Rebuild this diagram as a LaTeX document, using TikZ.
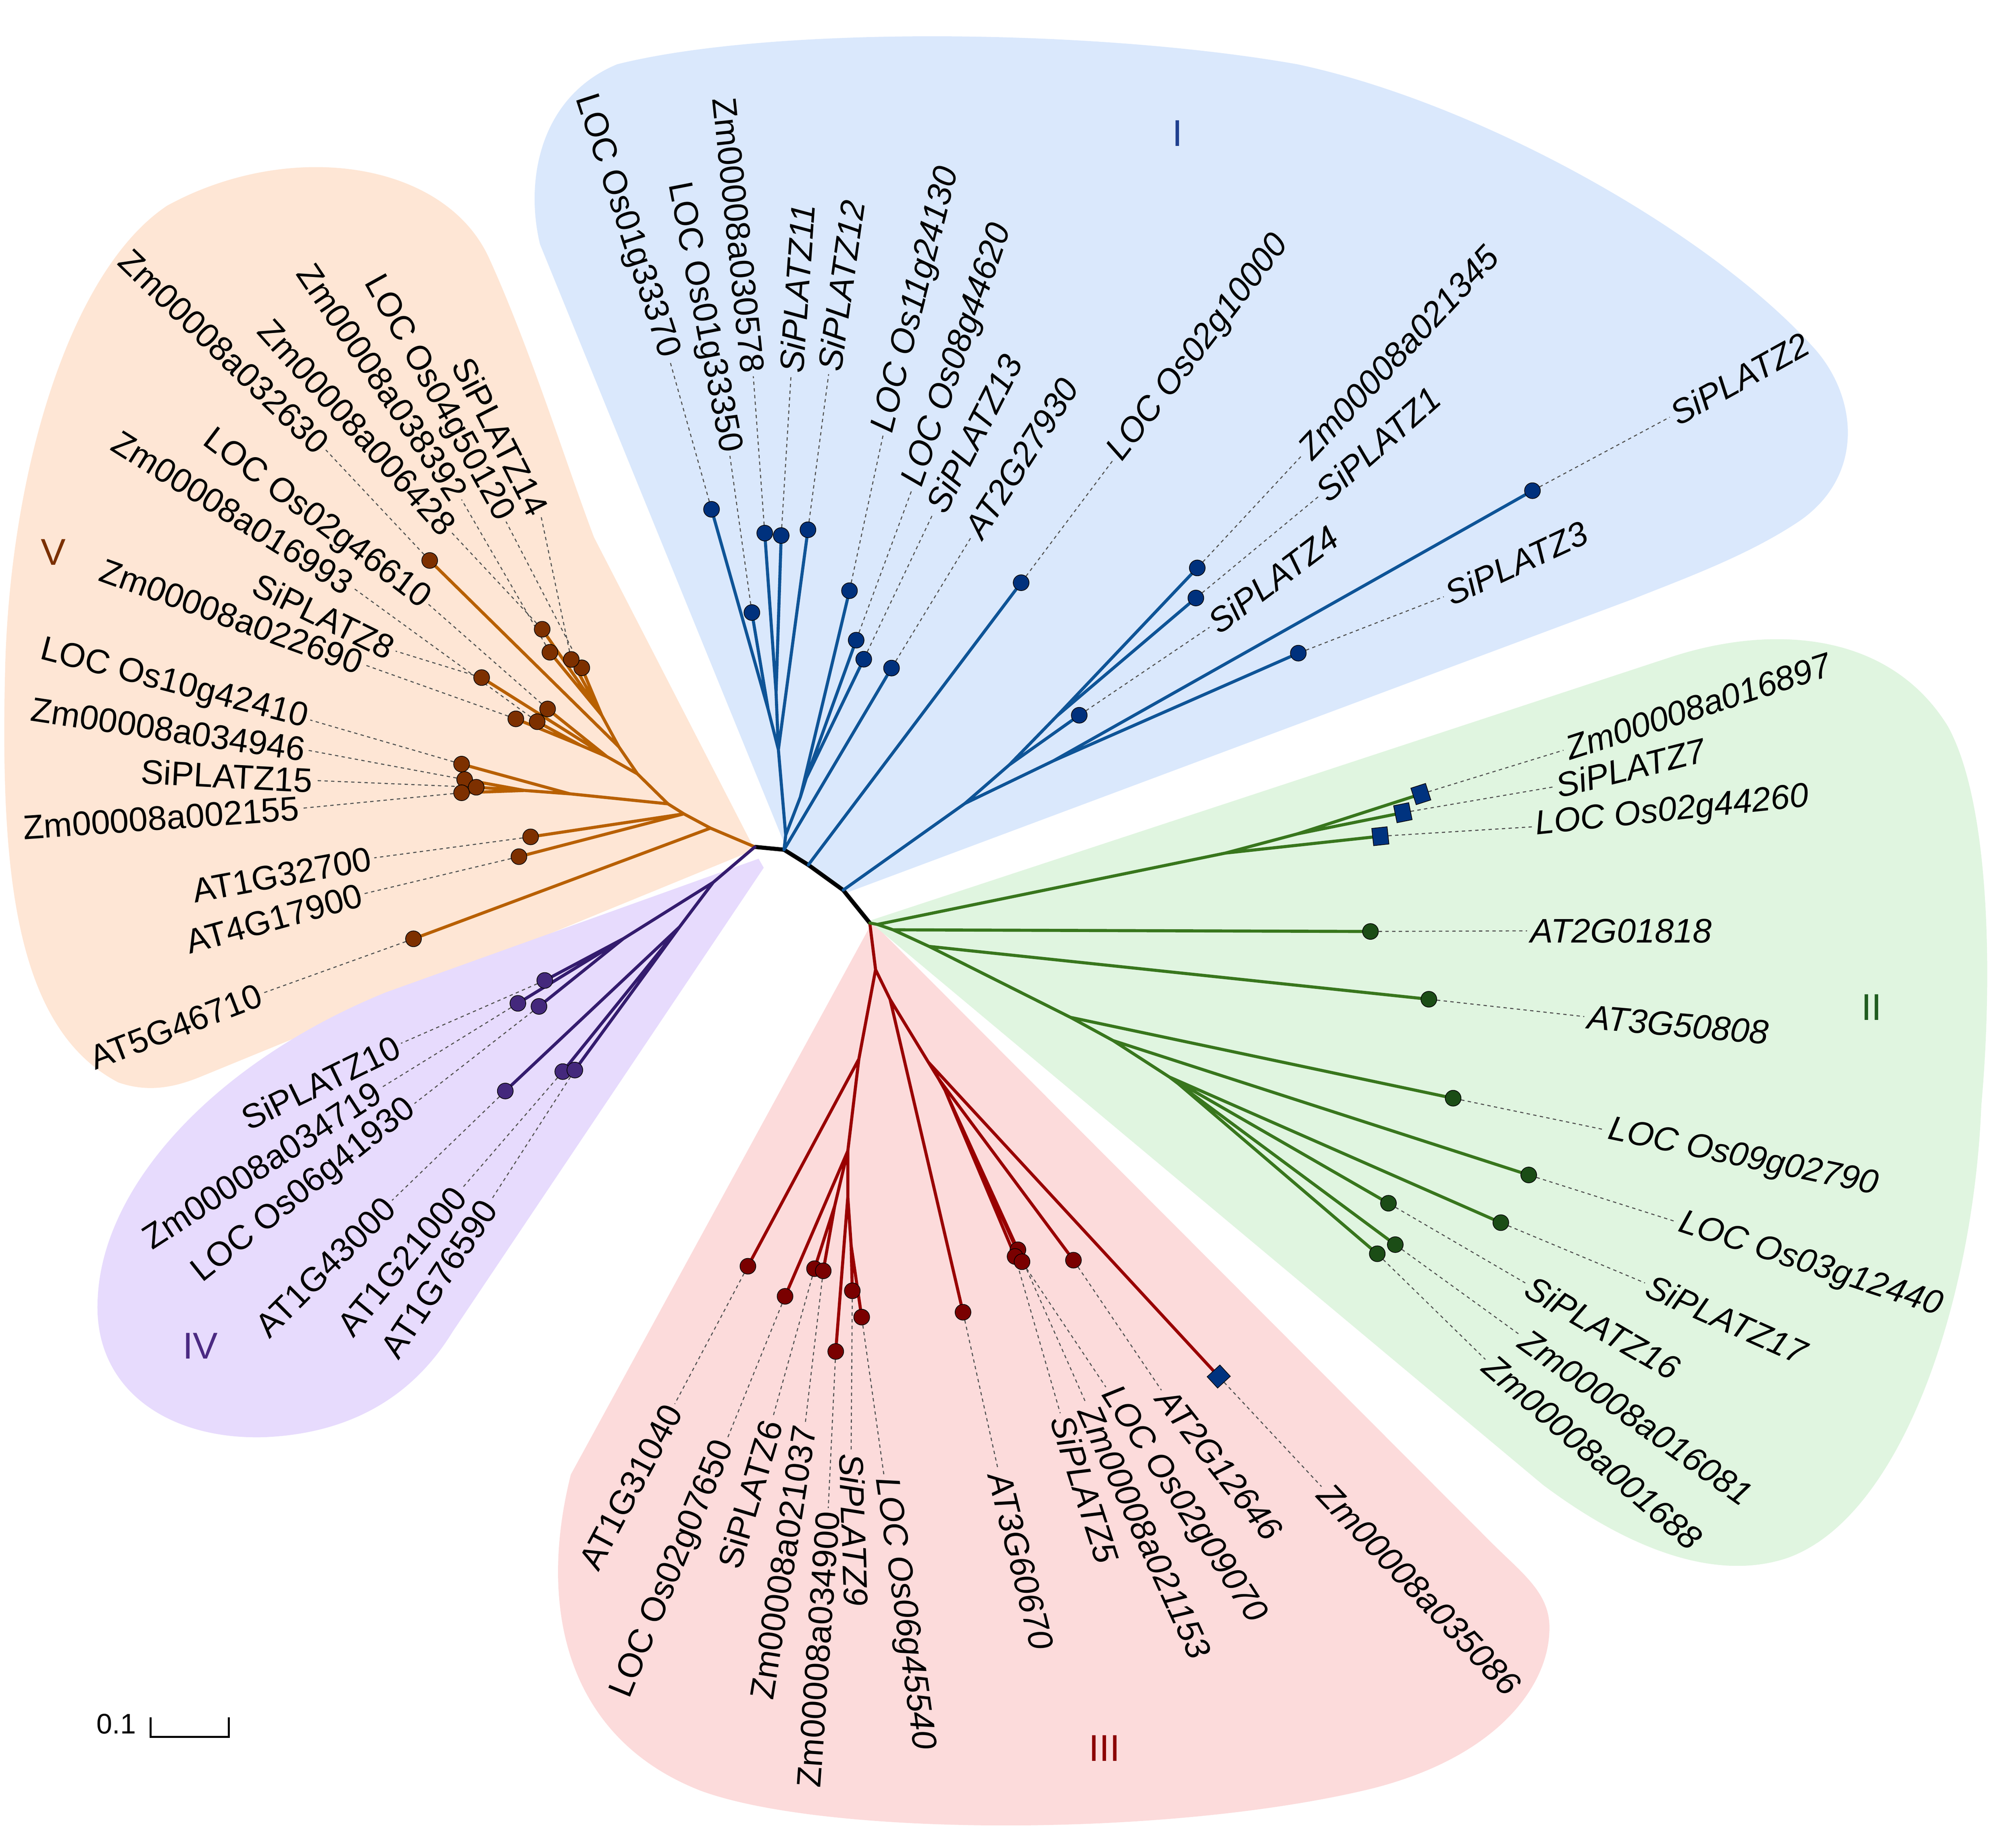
\documentclass[tikz,border=0pt]{standalone}
\usepackage{fontspec}
\setmainfont{Liberation Sans}
\pgfdeclarelayer{bg}
\pgfdeclarelayer{dashes}
\pgfdeclarelayer{edges}
\pgfsetlayers{bg,dashes,edges,main}
\definecolor{bgB}{HTML}{DAE8FC}
\definecolor{bgO}{HTML}{FEE6D5}
\definecolor{bgP}{HTML}{E7DBFD}
\definecolor{bgR}{HTML}{FCDBDB}
\definecolor{bgG}{HTML}{E0F5E0}
\definecolor{lnB}{HTML}{0E5497}
\definecolor{dtB}{HTML}{00317D}
\definecolor{lnO}{HTML}{B86000}
\definecolor{dtO}{HTML}{7D3000}
\definecolor{lnP}{HTML}{341C6E}
\definecolor{dtP}{HTML}{44287C}
\definecolor{lnR}{HTML}{990000}
\definecolor{dtR}{HTML}{7A0000}
\definecolor{lnG}{HTML}{38761D}
\definecolor{dtG}{HTML}{1B4D16}
\definecolor{sqB}{HTML}{00337F}
\definecolor{dshC}{HTML}{505050}
\definecolor{nmB}{HTML}{1F3F8F}
\definecolor{nmG}{HTML}{1F5C1F}
\definecolor{nmR}{HTML}{8B0000}
\definecolor{nmP}{HTML}{4B2A82}
\definecolor{nmO}{HTML}{7B3000}
\newcommand\lblfont{\fontsize{26.5}{30}\selectfont}
\newcommand\numfont{\fontsize{29}{33}\selectfont}
\begin{document}
\begin{tikzpicture}[x=1pt,y=-1pt,
  br/.style={line width=2.4pt,line cap=round,line join=round},
  bbone/.style={line width=3.2pt,line cap=round,line join=round,draw=black},
  dsh/.style={draw=dshC,line width=0.8pt,dash pattern=on 2.6pt off 2.6pt},
  dt/.style={circle,draw=black,line width=0.5pt,inner sep=0pt,minimum size=12.3pt},
  sqn/.style={rectangle,draw=black,line width=0.5pt,fill=sqB,inner sep=0pt,minimum width=12pt,minimum height=13.5pt},
  lbR/.style={font=\lblfont\itshape,inner sep=2.5pt,anchor=west},
  lbL/.style={font=\lblfont,inner sep=2.5pt,anchor=east},
  numl/.style={font=\numfont,inner sep=0pt}]
\useasboundingbox (0,0) rectangle (1568,1421);
% ---------------- backgrounds
\begin{pgfonlayer}{bg}
\fill[white] (0,0) rectangle (1568,1421);
\fill[bgB] (612,661) -- (420,190) .. controls (408,140) and (420,75) .. (480,50)
  .. controls (600,20) and (850,22) .. (1009,50)
  .. controls (1150,80) and (1330,180) .. (1412,272)
  .. controls (1445,310) and (1450,370) .. (1400,405)
  .. controls (1360,432) and (1310,450) .. (1270,466) -- (657,695) -- cycle;
\fill[bgO] (587,661) -- (462,418) .. controls (440,360) and (412,270) .. (380,200)
  .. controls (345,125) and (225,108) .. (130,160)
  .. controls (55,210) and (8,365) .. (4,520)
  .. controls (0,680) and (12,800) .. (92,842)
  .. controls (115,850) and (135,846) .. (155,838) -- cycle;
\fill[bgP] (590,668) -- (300,772) .. controls (170,825) and (80,920) .. (76,1010)
  .. controls (72,1080) and (130,1120) .. (205,1118)
  .. controls (280,1115) and (325,1080) .. (352,1036) -- (594,675) -- cycle;
\fill[bgR] (677,720) -- (444,1147) .. controls (418,1250) and (440,1352) .. (545,1393)
  .. controls (640,1428) and (900,1430) .. (1060,1393)
  .. controls (1160,1370) and (1203,1315) .. (1205,1270)
  .. controls (1207,1240) and (1185,1225) .. (1160,1200) -- (680,719) -- cycle;
\fill[bgG] (677,716) -- (1300,511) .. controls (1380,485) and (1470,492) .. (1515,565)
  .. controls (1548,625) and (1550,760) .. (1541,860)
  .. controls (1535,1010) and (1480,1180) .. (1390,1212)
  .. controls (1330,1232) and (1260,1200) .. (1200,1155) -- (681,721) -- cycle;
\end{pgfonlayer}
% ---------------- internal nodes
\coordinate (OP) at (587.1,658.8);
\coordinate (RB) at (609.8,661.0);
\coordinate (K1) at (628.7,672.8);
\coordinate (K2) at (655.8,692.4);
\coordinate (GR) at (676.5,718.0);
% blue
\coordinate (B0) at (611.1,649.6);
\coordinate (BA) at (605.4,583.1);
\coordinate (BA1) at (597.4,551.6);
\coordinate (BA2) at (603.6,538.7);
\coordinate (BB) at (622.5,620.0);
\coordinate (BB1) at (627.1,605.3);
\coordinate (B3) at (750.5,625.0);
\coordinate (Na) at (785.0,595.0);
\coordinate (Nc) at (822.0,557.0);
\coordinate (Nb) at (819.6,591.7);
% orange
\coordinate (O1) at (552.6,644.2);
\coordinate (O2) at (531.9,633.1);
\coordinate (O3) at (519.5,625.3);
\coordinate (O4) at (443.2,617.5);
\coordinate (O5) at (408.1,614.9);
\coordinate (O6) at (495.8,602.0);
\coordinate (O7) at (472.1,588.6);
\coordinate (O7a) at (451.4,579.7);
\coordinate (O8) at (481.3,580.9);
\coordinate (O9) at (468.0,556.4);
% purple
\coordinate (P1) at (554.7,686.4);
\coordinate (P2) at (484.8,730.2);
\coordinate (P3) at (528.5,721.1);
% red
\coordinate (R1) at (681.0,754.3);
\coordinate (R2) at (668.0,823.8);
\coordinate (R4) at (659.4,895.3);
\coordinate (R4a) at (649.2,938.1);
\coordinate (R5) at (659.4,931.0);
\coordinate (R6) at (662.0,969.0);
\coordinate (R3) at (692.3,777.4);
\coordinate (R7) at (722.0,826.2);
\coordinate (R8) at (730.1,839.3);
\coordinate (R9) at (735.0,848.0);
% green
\coordinate (G1) at (682.4,719.1);
\coordinate (G2) at (694.6,723.3);
\coordinate (G3) at (722.6,736.2);
\coordinate (G4) at (832.6,791.4);
\coordinate (G5) at (865.8,809.5);
\coordinate (G6) at (909.5,837.8);
\coordinate (G7) at (916.4,843.0);
\coordinate (GS) at (953.1,663.6);
\coordinate (GS2) at (1009.0,648.7);
% ---------------- tips
\node[dt,fill=dtB] (b1) at (553.4,396.2) {};
\node[dt,fill=dtB] (b2) at (584.8,476.5) {};
\node[dt,fill=dtB] (b3) at (594.8,414.7) {};
\node[dt,fill=dtB] (b4) at (607.6,416.6) {};
\node[dt,fill=dtB] (b5) at (628.4,412.1) {};
\node[dt,fill=dtB] (b6) at (660.7,459.5) {};
\node[dt,fill=dtB] (b7) at (665.9,498.0) {};
\node[dt,fill=dtB] (b8) at (671.8,512.8) {};
\node[dt,fill=dtB] (b9) at (693.4,519.7) {};
\node[dt,fill=dtB] (b10) at (794.2,453.3) {};
\node[dt,fill=dtB] (b11) at (931.2,441.8) {};
\node[dt,fill=dtB] (b12) at (930.1,465.2) {};
\node[dt,fill=dtB] (b13) at (839.4,556.4) {};
\node[dt,fill=dtB] (b14) at (1191.9,381.7) {};
\node[dt,fill=dtB] (b15) at (1009.8,508.1) {};
\node[dt,fill=dtO] (o1) at (334.2,436.0) {};
\node[dt,fill=dtO] (o2) at (452.5,519.5) {};
\node[dt,fill=dtO] (o3) at (427.7,507.4) {};
\node[dt,fill=dtO] (o4) at (421.7,489.5) {};
\node[dt,fill=dtO] (o5) at (444.3,513.0) {};
\node[dt,fill=dtO] (o6) at (425.9,551.5) {};
\node[dt,fill=dtO] (o7) at (417.8,561.4) {};
\node[dt,fill=dtO] (o8) at (374.6,527.1) {};
\node[dt,fill=dtO] (o9) at (401.2,559.2) {};
\node[dt,fill=dtO] (o10) at (359.0,594.4) {};
\node[dt,fill=dtO] (o11) at (361.4,606.4) {};
\node[dt,fill=dtO] (o13) at (359.0,616.7) {};
\node[dt,fill=dtO] (o12) at (370.4,612.4) {};
\node[dt,fill=dtO] (o14) at (412.7,651.0) {};
\node[dt,fill=dtO] (o15) at (403.6,666.4) {};
\node[dt,fill=dtO] (o16) at (321.6,730.3) {};
\node[dt,fill=dtP] (p1) at (423.7,762.7) {};
\node[dt,fill=dtP] (p2) at (402.8,780.5) {};
\node[dt,fill=dtP] (p3) at (419.2,782.9) {};
\node[dt,fill=dtP] (p4) at (393.0,848.7) {};
\node[dt,fill=dtP] (p5) at (437.7,833.6) {};
\node[dt,fill=dtP] (p6) at (447.1,832.4) {};
\node[dt,fill=dtR] (r1) at (581.7,985.0) {};
\node[dt,fill=dtR] (r2) at (610.6,1008.4) {};
\node[dt,fill=dtR] (r3) at (633.5,986.9) {};
\node[dt,fill=dtR] (r4) at (640.3,988.6) {};
\node[dt,fill=dtR] (r5) at (650.0,1051.3) {};
\node[dt,fill=dtR] (r6) at (662.9,1004.1) {};
\node[dt,fill=dtR] (r7) at (670.2,1024.6) {};
\node[dt,fill=dtR] (r8) at (749.0,1020.8) {};
\node[dt,fill=dtR] (r10) at (791.7,972.2) {};
\node[dt,fill=dtR] (r9) at (789.5,977.4) {};
\node[dt,fill=dtR] (r11) at (794.9,981.5) {};
\node[dt,fill=dtR] (r12) at (834.9,980.3) {};
\node[sqn,rotate=-47.3] (r13) at (947.9,1070.8) {};
\node[sqn,rotate=17.9] (g1) at (1105.1,617.7) {};
\node[sqn,rotate=11.4] (g2) at (1091.1,632.2) {};
\node[sqn,rotate=6.2] (g3) at (1073.6,650.5) {};
\node[dt,fill=dtG] (g4) at (1065.9,724.6) {};
\node[dt,fill=dtG] (g5) at (1111.3,777.3) {};
\node[dt,fill=dtG] (g6) at (1130.2,854.3) {};
\node[dt,fill=dtG] (g7) at (1189.0,914.0) {};
\node[dt,fill=dtG] (g8) at (1167.3,951.1) {};
\node[dt,fill=dtG] (g9) at (1079.9,936.0) {};
\node[dt,fill=dtG] (g10) at (1085.2,968.2) {};
\node[dt,fill=dtG] (g11) at (1071.2,975.3) {};
% ---------------- label points and labels
\coordinate (lb1) at (520.8,280.0);   \node[lbL,rotate=-72] (tb1) at (lb1) {LOC Os01g33370};
\coordinate (lb2) at (567.7,354.6);   \node[lbL,rotate=-79] (tb2) at (lb2) {LOC Os01g33350};
\coordinate (lb3) at (585.9,292.7);   \node[lbL,rotate=-84] (tb3) at (lb3) {Zm00008a030578};
\coordinate (lb4) at (615.2,292.7);   \node[lbR,rotate=86] (tb4) at (lb4) {SiPLATZ11};
\coordinate (lb5) at (644.5,291.1);   \node[lbR,rotate=82] (tb5) at (lb5) {SiPLATZ12};
\coordinate (lb6) at (686.8,338.7);   \node[lbR,rotate=76] (tb6) at (lb6) {LOC Os11g24130};
\coordinate (lb7) at (709.6,380.0);   \node[lbR,rotate=71] (tb7) at (lb7) {LOC Os08g44620};
\coordinate (lb8) at (725.9,399.1);   \node[lbR,rotate=63] (tb8) at (lb8) {SiPLATZ13};
\coordinate (lb9) at (755.2,418.1);   \node[lbR,rotate=57.5] (tb9) at (lb9) {AT2G27930};
\coordinate (lb10) at (865.8,357.8);  \node[lbR,rotate=52.5] (tb10) at (lb10) {LOC Os02g10000};
\coordinate (lb11) at (1012.3,354.6); \node[lbR,rotate=47] (tb11) at (lb11) {Zm00008a021345};
\coordinate (lb12) at (1025.3,386.4); \node[lbR,rotate=41.5] (tb12) at (lb12) {SiPLATZ1};
\coordinate (lb13) at (940.7,488.0);  \node[lbR,rotate=37] (tb13) at (lb13) {SiPLATZ4};
\coordinate (lb14) at (1298.7,324.5); \node[lbR,rotate=29] (tb14) at (lb14) {SiPLATZ2};
\coordinate (lb15) at (1122.9,464.2); \node[lbR,rotate=25] (tb15) at (lb15) {SiPLATZ3};
\coordinate (lo1) at (253.4,350.0);   \node[lbL,rotate=-44] (to1) at (lo1) {Zm00008a032630};
\coordinate (lo2) at (393.6,405.8);   \node[lbL,rotate=-61] (to2) at (lo2) {LOC Os04g50120};
\coordinate (lo3) at (359.0,388.6);   \node[lbL,rotate=-56] (to3) at (lo3) {Zm00008a038392};
\coordinate (lo4) at (351.4,414.4);   \node[lbL,rotate=-48] (to4) at (lo4) {Zm00008a006428};
\coordinate (lo5) at (420.8,401.5);   \node[lbL,rotate=-63] (to5) at (lo5) {SiPLATZ14};
\coordinate (lo6) at (333.3,470.1);   \node[lbL,rotate=-37] (to6) at (lo6) {LOC Os02g46610};
\coordinate (lo7) at (274.5,457.2);   \node[lbL,rotate=-32] (to7) at (lo7) {Zm00008a016993};
\coordinate (lo8) at (307.7,506.5);   \node[lbL,rotate=-26] (to8) at (lo8) {SiPLATZ8};
\coordinate (lo9) at (283.6,517.2);   \node[lbL,rotate=-20] (to9) at (lo9) {Zm00008a022690};
\coordinate (lo10) at (241.3,560.1);  \node[lbL,rotate=-14.5] (to10) at (lo10) {LOC Os10g42410};
\coordinate (lo11) at (239.8,583.7);  \node[lbL,rotate=-8.5] (to11) at (lo11) {Zm00008a034946};
\coordinate (lo12) at (245.8,607.2);  \node[lbL,rotate=-3] (to12) at (lo12) {SiPLATZ15};
\coordinate (lo13) at (235.3,628.7);  \node[lbL,rotate=4] (to13) at (lo13) {Zm00008a002155};
\coordinate (lo14) at (291.1,667.3);  \node[lbL,rotate=10.5] (to14) at (lo14) {AT1G32700};
\coordinate (lo15) at (283.6,695.1);  \node[lbL,rotate=15.5] (to15) at (lo15) {AT4G17900};
\coordinate (lo16) at (205.1,772.3);  \node[lbL,rotate=21] (to16) at (lo16) {AT5G46710};
\coordinate (lp1) at (311.9,811.6);   \node[lbL,rotate=26] (tp1) at (lp1) {SiPLATZ10};
\coordinate (lp2) at (296.2,846.3);   \node[lbL,rotate=33] (tp2) at (lp2) {Zm00008a034719};
\coordinate (lp3) at (322.4,858.4);   \node[lbL,rotate=38.5] (tp3) at (lp3) {LOC Os06g41930};
\coordinate (lp4) at (304.9,933.8);   \node[lbL,rotate=45] (tp4) at (lp4) {AT1G43000};
\coordinate (lp5) at (359.1,924.7);   \node[lbL,rotate=50.5] (tp5) at (lp5) {AT1G21000};
\coordinate (lp6) at (381.8,933.8);   \node[lbL,rotate=56.5] (tp6) at (lp6) {AT1G76590};
\coordinate (lr1) at (524.8,1092.1);  \node[lbL,rotate=62] (tr1) at (lr1) {AT1G31040};
\coordinate (lr2) at (565.5,1119.5);  \node[lbL,rotate=67.7] (tr2) at (lr2) {LOC Os02g07650};
\coordinate (lr3) at (601.0,1102.9);  \node[lbL,rotate=73.5] (tr3) at (lr3) {SiPLATZ6};
\coordinate (lr4) at (626.4,1106.4);  \node[lbL,rotate=81] (tr4) at (lr4) {Zm00008a021037};
\coordinate (lr5) at (644.2,1173.1);  \node[lbL,rotate=86] (tr5) at (lr5) {Zm00008a034900};
\coordinate (lr6) at (662.0,1127.9);  \node[lbR,rotate=-88] (tr6) at (lr6) {SiPLATZ9};
\coordinate (lr7) at (687.4,1146.9);  \node[lbR,rotate=-82] (tr7) at (lr7) {LOC Os06g45540};
\coordinate (lr8) at (776.3,1143.3);  \node[lbR,rotate=-76] (tr8) at (lr8) {AT3G60670};
\coordinate (lr9) at (824.6,1099.3);  \node[lbR,rotate=-72] (tr9) at (lr9) {SiPLATZ5};
\coordinate (lr10) at (844.9,1092.1); \node[lbR,rotate=-65.5] (tr10) at (lr10) {Zm00008a021153};
\coordinate (lr11) at (860.1,1079.0); \node[lbR,rotate=-57] (tr11) at (lr11) {LOC Os02g09070};
\coordinate (lr12) at (903.3,1081.4); \node[lbR,rotate=-52] (tr12) at (lr12) {AT2G12646};
\coordinate (lr13) at (1027.8,1156.4);\node[lbR,rotate=-46.5] (tr13) at (lr13) {Zm00008a035086};
\coordinate (lg1) at (1216.0,583.6);  \node[lbR,rotate=18] (tg1) at (lg1) {Zm00008a016897};
\coordinate (lg2) at (1207.9,612.2);  \node[lbR,rotate=14] (tg2) at (lg2) {SiPLATZ7};
\coordinate (lg3) at (1191.7,643.2);  \node[lbR,rotate=6] (tg3) at (lg3) {LOC Os02g44260};
\coordinate (lg4) at (1187.7,724.1);  \node[lbR,rotate=0] (tg4) at (lg4) {AT2G01818};
\coordinate (lg5) at (1232.2,790.8);  \node[lbR,rotate=-5] (tg5) at (lg5) {AT3G50808};
\coordinate (lg6) at (1248.4,878.9);  \node[lbR,rotate=-11.7] (tg6) at (lg6) {LOC Os09g02790};
\coordinate (lg7) at (1303.7,950.4);  \node[lbR,rotate=-18] (tg7) at (lg7) {LOC Os03g12440};
\coordinate (lg8) at (1279.4,998.0);  \node[lbR,rotate=-24] (tg8) at (lg8) {SiPLATZ17};
\coordinate (lg9) at (1186.3,998.0);  \node[lbR,rotate=-30] (tg9) at (lg9) {SiPLATZ16};
\coordinate (lg10) at (1182.3,1038.5);\node[lbR,rotate=-35.5] (tg10) at (lg10) {Zm00008a016081};
\coordinate (lg11) at (1155.3,1057.5);\node[lbR,rotate=-41] (tg11) at (lg11) {Zm00008a001688};
% ---------------- clade numerals
\node[numl,text=nmB] (nI) at (915.9,103.8) {I};
\node[numl,text=nmG] (nII) at (1455.7,783.7) {II};
\node[numl,text=nmR] (nIII) at (859.1,1360.1) {III};
\node[numl,text=nmP] (nIV) at (155.8,1046.9) {IV};
\node[numl,text=nmO] (nV) at (41.6,429.4) {V};
% ---------------- scale bar
\coordinate (sb1) at (117,1336);
\coordinate (sb2) at (117,1351);
\coordinate (sb3) at (178,1351);
\coordinate (sb4) at (178,1336);
\draw[line width=1.6pt] (sb1) -- (sb2) -- (sb3) -- (sb4);
\node[font=\fontsize{22}{26}\selectfont,anchor=east,inner sep=0pt] (sbt) at (106,1341) {0.1};
% ---------------- dashed leaders
\begin{pgfonlayer}{dashes}
\foreach \n in {b1,b2,b3,b4,b5,b6,b7,b8,b9,b10,b11,b12,b13,b14,b15}{\draw[dsh] (\n) -- (l\n);}
\foreach \n in {1,...,16}{\draw[dsh] (o\n) -- (lo\n);}
\foreach \n in {1,...,6}{\draw[dsh] (p\n) -- (lp\n);}
\foreach \n in {1,...,13}{\draw[dsh] (r\n) -- (lr\n);}
\foreach \n in {1,...,11}{\draw[dsh] (g\n) -- (lg\n);}
\end{pgfonlayer}
% ---------------- branches
\begin{pgfonlayer}{edges}
\draw[bbone] (OP) -- (RB) -- (K1) -- (K2) -- (GR);
\draw[br,draw=lnB] (RB) -- (B0) (B0) -- (BA) (B0) -- (BB) (RB) -- (b9)
  (BA) -- (BA1) (BA1) -- (b1) (BA1) -- (b2) (BA) -- (BA2) (BA2) -- (b3) (BA2) -- (b4) (BA) -- (b5)
  (BB) -- (b6) (BB) -- (BB1) (BB1) -- (b7) (BB1) -- (b8)
  (K1) -- (b10) (K2) -- (B3) (B3) -- (Na) (Na) -- (b13) (Na) -- (Nc) (Nc) -- (b11) (Nc) -- (b12)
  (B3) -- (Nb) (Nb) -- (b14) (Nb) -- (b15);
\draw[br,draw=lnO] (OP) -- (O1) -- (O2) -- (O3) -- (O6) -- (O8) -- (O9)
  (O1) -- (o16) (O2) -- (o14) (O2) -- (o15)
  (O3) -- (O4) (O4) -- (o10) (O4) -- (O5) (O5) -- (o11) (O5) -- (o12) (O5) -- (o13)
  (O6) -- (O7) (O7) -- (o8) (O7) -- (o6) (O7) -- (O7a) (O7a) -- (o7) (O7a) -- (o9)
  (O8) -- (o1) (O9) -- (o2) (O9) -- (o3) (O9) -- (o4) (O9) -- (o5);
\draw[br,draw=lnP] (OP) -- (P1) (P1) -- (P2) (P1) -- (P3)
  (P2) -- (p1) (P2) -- (p2) (P2) -- (p3) (P3) -- (p4) (P3) -- (p5) (P3) -- (p6);
\draw[br,draw=lnR] (GR) -- (R1) (R1) -- (R2) (R2) -- (r1) (R2) -- (R4)
  (R4) -- (r2) (R4) -- (R4a) (R4a) -- (r3) (R4a) -- (r4) (R4) -- (R5) (R5) -- (r5) (R5) -- (R6) (R6) -- (r6) (R6) -- (r7)
  (R1) -- (R3) (R3) -- (r8) (R3) -- (R7) (R7) -- (r13) (R7) -- (R8) (R8) -- (r12) (R8) -- (R9)
  (R9) -- (r9) (R9) -- (r10) (R9) -- (r11);
\draw[br,draw=lnG] (GR) -- (G1) -- (G2) -- (G3) -- (G4) -- (G5) -- (G6)
  (G1) -- (GS) (GS) -- (g3) (GS) -- (GS2) (GS2) -- (g1) (GS2) -- (g2)
  (G2) -- (g4) (G3) -- (g5) (G4) -- (g6) (G5) -- (g7)
  (G6) -- (g8) (G6) -- (g9) (G6) -- (G7) (G7) -- (g10) (G7) -- (g11);
\end{pgfonlayer}
\end{tikzpicture}
\end{document}
